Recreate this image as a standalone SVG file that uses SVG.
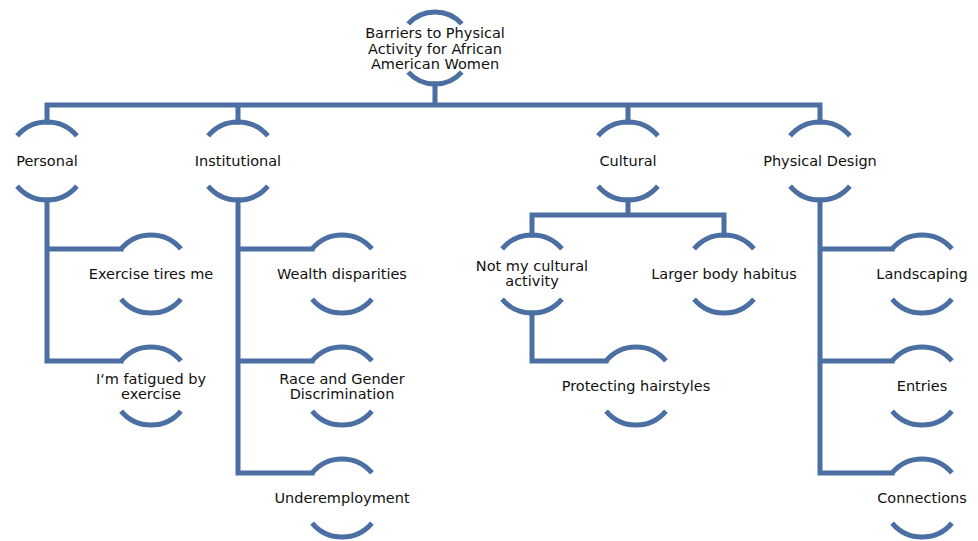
<svg xmlns="http://www.w3.org/2000/svg" xmlns:xlink="http://www.w3.org/1999/xlink" width="978" height="541" viewBox="0 0 978 541">
<style>
.arc{fill:none;stroke:#4b6fa3;stroke-width:5;stroke-linecap:butt}
.con{fill:none;stroke:#4b6fa3;stroke-width:5;stroke-linejoin:miter;stroke-linecap:square}
text{font-family:"DejaVu Sans","Verdana",sans-serif;font-size:14.5px;fill:#111;text-anchor:middle}
</style>
<defs>
<path id="nodeArcs" class="arc" d="M-29.9,-25.1 A39,39 0 0 1 29.9,-25.1 M-29.9,25.1 A39,39 0 0 0 29.9,25.1"/>
<path id="rootArcs" class="arc" d="M-26.8,-24.1 A36,36 0 0 1 26.8,-24.1 M-26.8,24.1 A36,36 0 0 0 26.8,24.1"/>
</defs>
<rect width="978" height="541" fill="#fff"/>
<g id="connectors">
<path class="con" d="M435,84 V105 M47,105 H820 M47,105 V122 M238,105 V122 M628,105 V122 M820,105 V122"/>
<path class="con" d="M47,200 V361 H121 M47,249 H121"/>
<path class="con" d="M238,200 V473 H312 M238,249 H312 M238,361 H312"/>
<path class="con" d="M628,200 V215 M532,235 V215 H724 V235"/>
<path class="con" d="M532,313 V361 H606"/>
<path class="con" d="M820,200 V473 H892 M820,249 H892 M820,361 H892"/>
</g>
<g id="root">
<use xlink:href="#rootArcs" x="435" y="48"/>
<text x="435" y="38">Barriers to Physical</text>
<text x="435" y="54">Activity for African</text>
<text x="435" y="69">American Women</text>
</g>
<g id="personal"><use xlink:href="#nodeArcs" x="47" y="161"/><text x="47" y="166">Personal</text></g>
<g id="institutional"><use xlink:href="#nodeArcs" x="238" y="161"/><text x="238" y="166">Institutional</text></g>
<g id="cultural"><use xlink:href="#nodeArcs" x="628" y="161"/><text x="628" y="166">Cultural</text></g>
<g id="physical-design"><use xlink:href="#nodeArcs" x="820" y="161"/><text x="820" y="166">Physical Design</text></g>
<g id="exercise-tires"><use xlink:href="#nodeArcs" x="151" y="274"/><text x="151" y="279">Exercise tires me</text></g>
<g id="fatigued"><use xlink:href="#nodeArcs" x="151" y="386"/><text x="151" y="384">I‘m fatigued by</text><text x="151" y="399">exercise</text></g>
<g id="wealth"><use xlink:href="#nodeArcs" x="342" y="274"/><text x="342" y="279">Wealth disparities</text></g>
<g id="race-gender"><use xlink:href="#nodeArcs" x="342" y="386"/><text x="342" y="384">Race and Gender</text><text x="342" y="399">Discrimination</text></g>
<g id="underemployment"><use xlink:href="#nodeArcs" x="342" y="498"/><text x="342" y="503">Underemployment</text></g>
<g id="not-cultural"><use xlink:href="#nodeArcs" x="532" y="274"/><text x="532" y="271">Not my cultural</text><text x="532" y="286">activity</text></g>
<g id="larger-body"><use xlink:href="#nodeArcs" x="724" y="274"/><text x="724" y="279">Larger body habitus</text></g>
<g id="hairstyles"><use xlink:href="#nodeArcs" x="636" y="386"/><text x="636" y="391">Protecting hairstyles</text></g>
<g id="landscaping"><use xlink:href="#nodeArcs" x="922" y="274"/><text x="922" y="279">Landscaping</text></g>
<g id="entries"><use xlink:href="#nodeArcs" x="922" y="386"/><text x="922" y="391">Entries</text></g>
<g id="connections"><use xlink:href="#nodeArcs" x="922" y="498"/><text x="922" y="503">Connections</text></g>
</svg>
